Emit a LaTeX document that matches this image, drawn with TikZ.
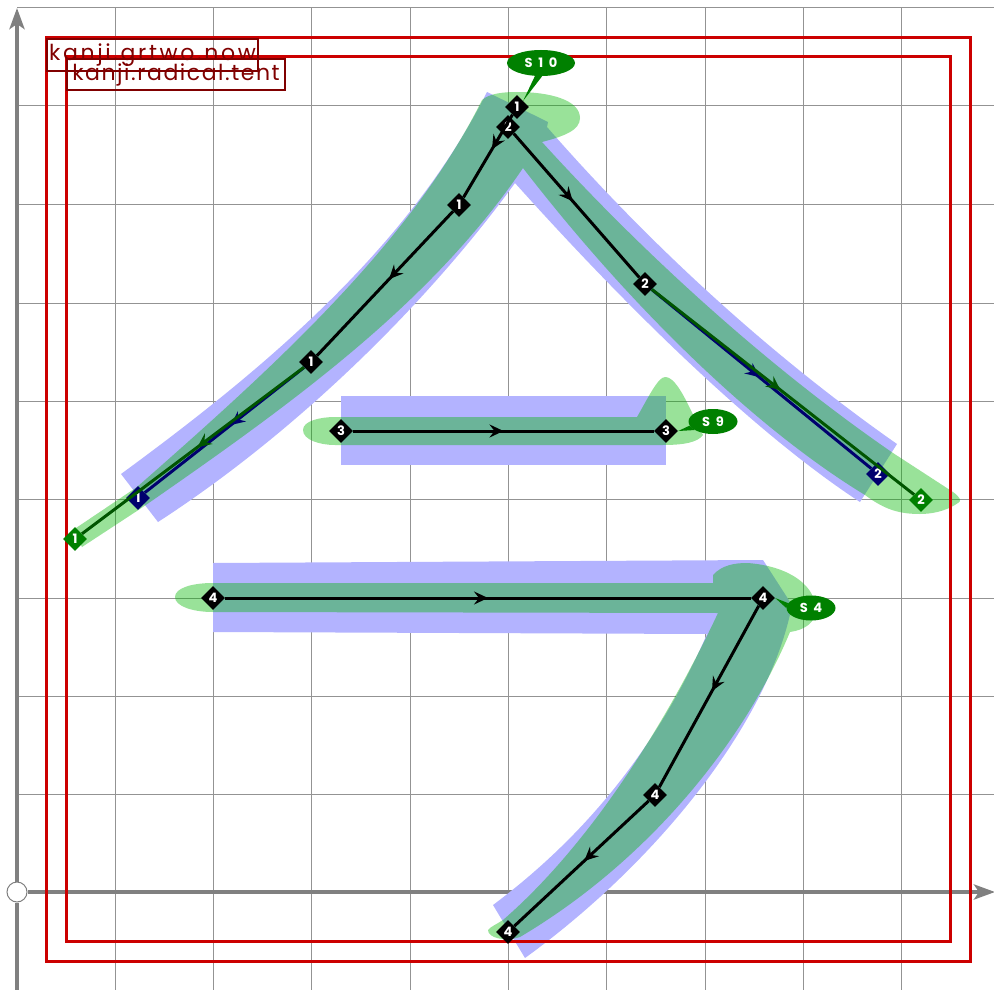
\documentclass[tikz,border=0pt]{standalone}
\usepackage{fontspec}
\usetikzlibrary{arrows.meta,shapes.geometric,decorations.markings}
\setmainfont{Poppins}
\newfontfamily\spacedfont[LetterSpace=12]{Poppins}
\newfontfamily\tightfont[LetterSpace=7]{Poppins}
\newfontfamily\talkfont[LetterSpace=22]{Poppins}
\definecolor{rimred}{RGB}{204,0,0}
\definecolor{tagred}{RGB}{128,0,0}
\definecolor{inkblue}{RGB}{179,179,255}
\definecolor{inkgreen}{RGB}{0,182,0}
\definecolor{bubble}{RGB}{0,128,0}
\definecolor{pathgreen}{RGB}{0,85,0}
\definecolor{pathblue}{RGB}{0,0,110}
\tikzset{
  gridline/.style={gray!85,line width=1pt},
  axisline/.style={gray,line width=4.5pt,-{Stealth[length=21pt,width=15pt,inset=5pt]}},
  rim/.style={rimred,line width=3pt},
  tag/.style={draw=tagred,line width=2pt,text=tagred,inner sep=0pt,text depth=5pt,text height=17pt},
  blueink/.style={fill=inkblue},
  greenink/.style={fill=inkgreen,fill opacity=.4},
  pt/.style={diamond,fill=#1,text=white,inner sep=0pt,minimum width=24pt,minimum height=24pt,font=\bfseries\fontsize{13}{13}\selectfont},
  pt/.default=black,
  talk/.style={ellipse,fill=bubble,text=white,inner sep=0pt,font=\talkfont\bfseries\fontsize{13}{13}\selectfont},
  seg/.style={line width=3pt,postaction={decorate},decoration={markings,mark=at position #1 with {\arrow{Stealth[length=14pt,width=13pt,inset=5pt]}}}},
  seg/.default=.5
}
\begin{document}
\begin{tikzpicture}[x=1pt,y=-1pt]
    \useasboundingbox (0,0) rectangle (994,990);
    % grid and axes
    \foreach \gx in {115,213,311,410,508,606,705,803,901}
        \draw[gridline] (\gx,8) -- (\gx,990);
    \foreach \gy in {8,106,204,303,401,499,598,696,794,990}
        \draw[gridline] (17,\gy) -- (994,\gy);
    \node(origin)[circle,draw=gray,fill=white,line width=1pt,minimum size=20pt,inner sep=0pt] at (17,892) {};
    \coordinate (xend) at (995,892);
    \coordinate (yend) at (17,8);
    \coordinate (ybot) at (17,990);
    \draw[axisline] (origin) -- (xend);
    \draw[axisline] (origin) -- (yend);
    \draw[gray,line width=4.5pt] (origin) -- (ybot);
    % ink outlines
    \fill[blueink] (121,474) .. controls (270,365) and (410,245) .. (487,92) -- (548,122) -- (547,127)
        .. controls (650,245) and (770,355) .. (897,444) -- (860,502)
        .. controls (750,430) and (620,300) .. (515,183)
        .. controls (430,300) and (300,430) .. (158,522) -- cycle;
    \fill[blueink] (341,396) rectangle (666,465);
    \fill[blueink] (213,563) -- (763,560) -- (792,605)
        .. controls (770,720) and (660,860) .. (525,958) -- (493,905)
        .. controls (600,825) and (665,730) .. (707,634) -- (213,632) -- cycle;
    \fill[greenink] (73,530) -- (137,487) .. controls (270,370) and (410,245) .. (482,100)
        .. controls (490,93) and (505,92) .. (517,92) .. controls (550,92) and (580,100) .. (580,118)
        .. controls (580,130) and (565,136) .. (542,142)
        .. controls (640,250) and (765,365) .. (893,453) -- (953,492)
        .. controls (960,497) and (962,501) .. (958,503) .. controls (945,512) and (930,514) .. (920,514)
        .. controls (900,514) and (885,510) .. (865,495)
        .. controls (750,425) and (625,300) .. (523,168)
        .. controls (430,305) and (290,405) .. (143,507) -- (82,547) -- cycle;
    \fill[greenink] (303,430) .. controls (303,421) and (320,417) .. (335,417) -- (637,417)
        .. controls (648,398) and (658,377) .. (665,377) .. controls (678,377) and (690,410) .. (703,435)
        .. controls (698,442) and (685,445) .. (663,445) -- (335,445)
        .. controls (320,445) and (303,440) .. (303,430) -- cycle;
    \fill[greenink] (175,597) .. controls (175,588) and (192,583) .. (213,583) -- (713,583) -- (713,575)
        .. controls (722,565) and (735,563) .. (747,563) .. controls (780,565) and (815,580) .. (816,610)
        .. controls (816,622) and (805,630) .. (790,632)
        .. controls (745,740) and (650,860) .. (520,937)
        .. controls (505,942) and (488,938) .. (488,930) .. controls (490,927) and (497,924) .. (503,920)
        .. controls (595,840) and (670,715) .. (718,613) -- (213,612)
        .. controls (192,612) and (175,606) .. (175,597) -- cycle;
    % frames
    \draw[rim] (46,38) rectangle (970,961);
    \draw[rim] (66,57) rectangle (950,941);
    \node(tagnow)[tag,font=\spacedfont\fontsize{22}{22}\selectfont,minimum width=211pt,minimum height=32pt] at (152.5,55) {kanji.grtwo.now};
    \node(tagtent)[tag,font=\tightfont\fontsize{22}{22}\selectfont,minimum width=218pt,minimum height=31pt] at (176,74.5) {kanji.radical.tent};
    % points
    \node(a1)[pt] at (517,107) {1};
    \node(a2)[pt] at (459,205) {1};
    \node(a3)[pt] at (311,362) {1};
    \node(a4)[pt=pathblue] at (138,498) {1};
    \node(a5)[pt=bubble] at (75,539) {1};
    \node(b1)[pt] at (508,127) {2};
    \node(b2)[pt] at (645,284) {2};
    \node(b3)[pt=pathblue] at (878,474) {2};
    \node(b4)[pt=bubble] at (921,500) {2};
    \node(c1)[pt] at (341,431) {3};
    \node(c2)[pt] at (666,431) {3};
    \node(d1)[pt] at (213,598) {4};
    \node(d2)[pt] at (763,598) {4};
    \node(d3)[pt] at (655,795) {4};
    \node(d4)[pt] at (508,932) {4};
    % strokes
    \draw[seg=.42] (a1) to (a2);
    \draw[seg=.47] (a2) to (a3);
    \draw[seg=.46,pathblue] (a3) to (a4);
    \draw[seg=.48,pathgreen] (a3) to (a5);
    \draw[seg=.47] (b1) to (b2);
    \draw[seg=.49,pathblue] (b2) to (b3);
    \draw[seg=.49,pathgreen] (b2) to (b4);
    \draw[seg] (c1) to (c2);
    \draw[seg] (d1) to (d2);
    \draw[seg=.47] (d2) to (d3);
    \draw[seg=.48] (d3) to (d4);
    % callouts
    \node(s10)[talk,minimum width=68pt,minimum height=26pt] at (541,63) {S 1 0};
    \node(s9)[talk,minimum width=49pt,minimum height=25pt] at (713,421.5) {S 9};
    \node(s4)[talk,minimum width=49pt,minimum height=25pt] at (811,608) {S 4};
    \fill[bubble] (a1.45) -- (s10.-115) -- (s10.-85) -- cycle;
    \fill[bubble] (c2.east) -- (s9.190) -- (s9.205) -- cycle;
    \fill[bubble] (d2.east) -- (s4.168) -- (s4.180) -- cycle;
\end{tikzpicture}
\end{document}
